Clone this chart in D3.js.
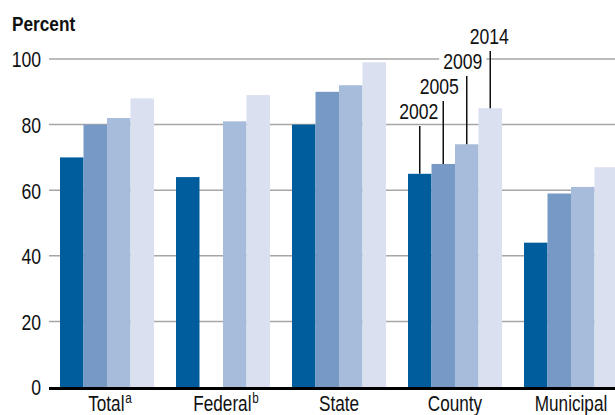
<!DOCTYPE html>
<html>
<head>
<meta charset="utf-8">
<script src="https://cdn.jsdelivr.net/npm/d3@7"></script>
<style>
  html, body { margin: 0; padding: 0; background: #fff; }
  svg { display: block; font-family: "Liberation Sans", Arial, sans-serif; }
</style>
</head>
<body>
<svg id="chart" width="615" height="415"></svg>
<script>
// ---- data ----
const categories = ["Total", "Federal", "State", "County", "Municipal"];
const superscripts = ["a", "b", "", "", ""];
const years = ["2002", "2005", "2009", "2014"];
const values2002 = [70, 64, 80, 65, 44];
const values2005 = [80, null, 90, 68, 59];
const values2009 = [82, 81, 92, 74, 61];
const values2014 = [88, 89, 99, 85, 67];
const yTicks = [0, 20, 40, 60, 80, 100];
const colors = ["#005d9d", "#7799c5", "#a7bbdb", "#dae0ef"];
const labelledCategory = "County";

const series = [values2002, values2005, values2009, values2014];

const svg = d3.select("#chart");
const W = 615;
const SX = 0.8; // horizontal condensing of the font
const FS = 22;

const y = d3.scaleLinear().domain([0, 100]).range([387, 59]);
const x0 = d3.scaleBand().domain(categories).range([49, 629])
  .paddingInner(22 / 116).paddingOuter(11 / 116);
const x1 = d3.scaleBand().domain(years).range([0, x0.bandwidth()]).padding(0);

function condensedText(parent, x, yy, anchor, size, sx) {
  const g = parent.append("g").attr("transform", `translate(${x},${yy}) scale(${sx || SX},1)`);
  const t = g.append("text").attr("x", 0).attr("y", 0)
    .attr("text-anchor", anchor).attr("font-size", size).attr("fill", "#111");
  return { g, t };
}

// gridlines
svg.append("g").selectAll("line").data(yTicks.filter(d => d > 0)).join("line")
  .attr("x1", 49).attr("x2", W)
  .attr("y1", d => y(d)).attr("y2", d => y(d))
  .attr("stroke", "#a6a6a6").attr("stroke-width", 1.5);

// y axis tick labels
const yAxis = d3.axisLeft(y).tickValues(yTicks).tickSize(0).tickPadding(0);
const gy = svg.append("g").attr("transform", "translate(41,0)").call(yAxis);
gy.select(".domain").remove();
gy.selectAll("text").attr("font-size", FS).attr("fill", "#111")
  .attr("font-family", "Liberation Sans, Arial, sans-serif")
  .attr("dy", "0.36em")
  .attr("transform", `scale(${SX},1)`);

// bars
const groups = svg.append("g").selectAll("g").data(categories).join("g")
  .attr("transform", d => `translate(${x0(d)},0)`);
groups.selectAll("rect")
  .data((c, i) => years.map((yr, j) => ({ yr, v: series[j][i], c })).filter(d => d.v != null))
  .join("rect")
  .attr("x", d => x1(d.yr))
  .attr("width", x1.bandwidth())
  .attr("y", d => y(d.v))
  .attr("height", d => y(0) - y(d.v))
  .attr("fill", d => colors[years.indexOf(d.yr)]);

// x axis baseline
svg.append("line").attr("x1", 49).attr("x2", W)
  .attr("y1", 388.5).attr("y2", 388.5)
  .attr("stroke", "#000").attr("stroke-width", 3);

// category labels
const catG = svg.append("g");
categories.forEach((c, i) => {
  const { t } = condensedText(catG, x0(c) + x0.bandwidth() / 2 + (superscripts[i] ? 3 : 0), 411, "middle", FS, 0.78);
  t.append("tspan").text(c);
  if (superscripts[i]) {
    t.append("tspan").text(superscripts[i])
      .attr("font-size", 15).attr("dy", -8).attr("dx", 1);
  }
});

// year callouts on County
const ci = categories.indexOf(labelledCategory);
const callG = svg.append("g");
years.forEach((yr, j) => {
  const v = series[j][ci];
  const cx = x0(labelledCategory) + x1(yr) + x1.bandwidth() / 2;
  const base = 119 - j * 25;
  const tx = cx - (j === 1 || j === 2 ? 4 : 1);
  const { g, t } = condensedText(callG, tx, base, "middle", FS);
  t.text(yr);
  const bb = t.node().getBBox();
  g.insert("rect", "text")
    .attr("x", bb.x - 5).attr("y", bb.y + 2)
    .attr("width", bb.width + 10).attr("height", bb.height - 4)
    .attr("fill", "#fff");
  callG.append("line")
    .attr("x1", cx).attr("x2", cx)
    .attr("y1", base + 7).attr("y2", y(v))
    .attr("stroke", "#111").attr("stroke-width", 1.5);
});

// title
const title = condensedText(svg, 12, 31, "start", 21, 0.82);
title.t.attr("font-weight", "bold").text("Percent");
</script>
</body>
</html>
